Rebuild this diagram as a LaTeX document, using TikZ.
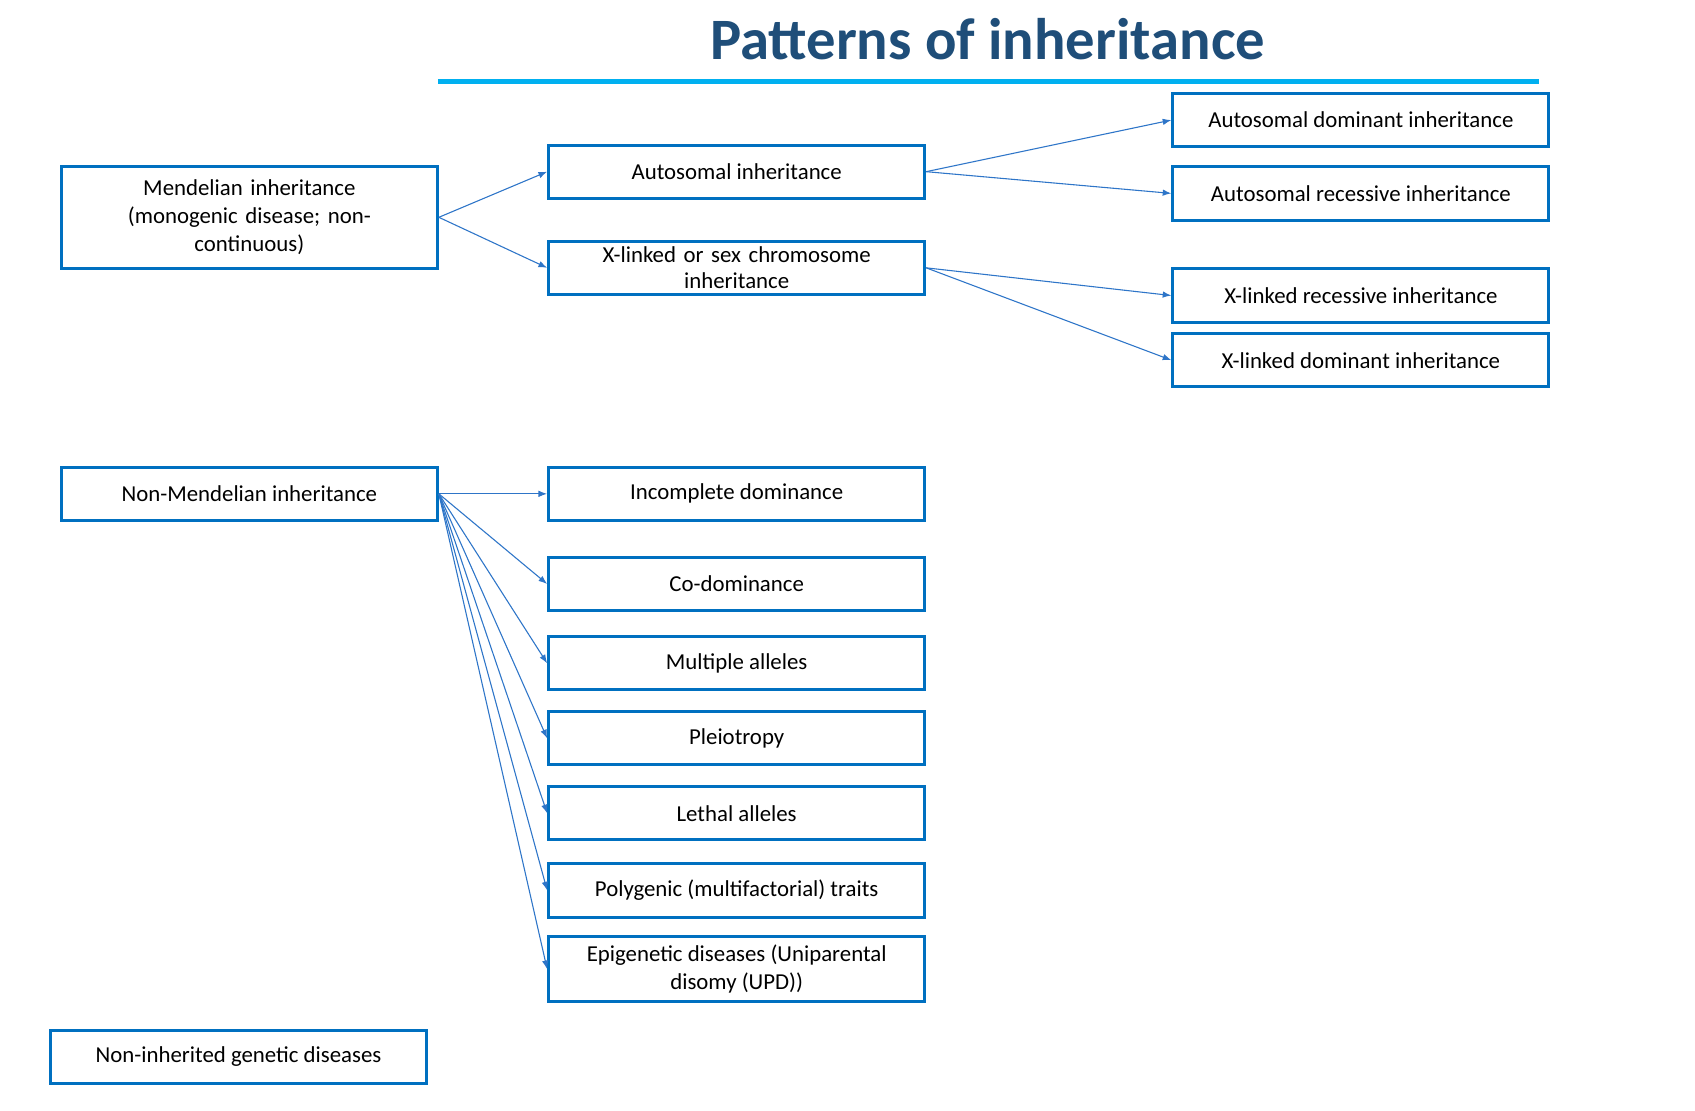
\documentclass[tikz,border=0pt]{standalone}
\usepackage{fontspec}
\setmainfont{Carlito}
\usetikzlibrary{arrows.meta}
\definecolor{bx}{RGB}{0,112,192}
\definecolor{ln}{RGB}{46,117,200}
\definecolor{tt}{RGB}{31,78,121}
\definecolor{cy}{RGB}{0,176,240}
\begin{document}
\begin{tikzpicture}[x=0.5pt,y=-0.5pt,
 box/.style={draw=bx,line width=1.4pt,rectangle,minimum width=173pt,minimum height=24.5pt,inner sep=1pt,align=center,font=\fontsize{10.5}{13}\selectfont},
 ar/.style={draw=ln,line width=0.5pt,-{Latex[length=4pt,width=3pt]}}]
\useasboundingbox (0,0) rectangle (1560,1022);
\node[font=\fontsize{27}{30}\bfseries\selectfont,text=tt] (title) at (909,36) {Patterns of inheritance};
\draw[cy,line width=2pt] (403,75) -- (1416,75);
\node[box,minimum height=47pt,text width=140pt] (m) at (229.5,200) {Mendelian inheritance\\(monogenic disease; non-\\continuous)};
\node[box] (a) at (678,158) {Autosomal inheritance};
\node[box,text width=150pt] (x) at (678,246.5) {X-linked or sex chromosome\\[-1pt]inheritance};
\node[box] (ad) at (1252.5,110.5) {Autosomal dominant inheritance};
\node[box] (arr) at (1252.5,178) {Autosomal recessive inheritance};
\node[box] (xr) at (1252.5,272) {X-linked recessive inheritance};
\node[box] (xd) at (1252.5,331.5) {X-linked dominant inheritance};
\node[box] (nm) at (229.5,454.5) {Non-Mendelian inheritance};
\node[box] (n1) at (678,454.5) {Incomplete dominance};
\node[box] (n2) at (678,537.5) {Co-dominance};
\node[box] (n3) at (678,610.5) {Multiple alleles};
\node[box] (n4) at (678,679.5) {Pleiotropy};
\node[box] (n5) at (678,748.5) {Lethal alleles};
\node[box] (n6) at (678,819.5) {Polygenic (multifactorial) traits};
\node[box,minimum height=30pt] (n7) at (678,892) {Epigenetic diseases (Uniparental\\disomy (UPD))};
\node[box] (ni) at (219.5,972.5) {Non-inherited genetic diseases};
\draw[ar] (m.east) -- (a.west);
\draw[ar] (m.east) -- (x.west);
\draw[ar] (a.east) -- (ad.west);
\draw[ar] (a.east) -- (arr.west);
\draw[ar] (x.east) -- (xr.west);
\draw[ar] (x.east) -- (xd.west);
\foreach \t in {n1,n2,n3,n4,n5,n6,n7} \draw[ar] (nm.east) -- (\t.west);
\end{tikzpicture}
\end{document}
